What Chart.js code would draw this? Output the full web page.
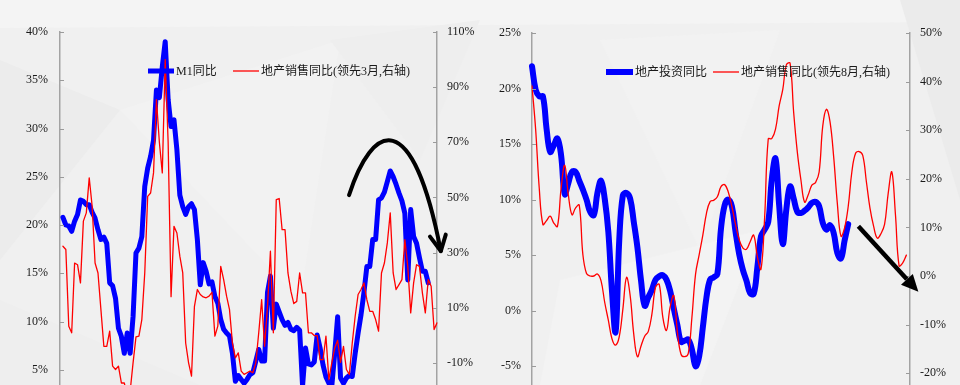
<!DOCTYPE html>
<html>
<head>
<meta charset="utf-8">
<script src="https://cdn.jsdelivr.net/npm/chart.js@4.4.1/dist/chart.umd.min.js"></script>
<style>
  html, body { margin: 0; padding: 0; width: 960px; height: 385px; overflow: hidden; background: #f0f0f0; }
  #bg { position: absolute; left: 0; top: 0; }
  .panel { position: absolute; top: 0; width: 480px; height: 440px; }
  #leftPanel { left: 0; }
  #rightPanel { left: 480px; }
</style>
</head>
<body>
<canvas id="bg" width="960" height="385"></canvas>
<div class="panel" id="leftPanel"><canvas id="m1Chart" width="480" height="440"></canvas></div>
<div class="panel" id="rightPanel"><canvas id="invChart" width="480" height="440"></canvas></div>
<script>
// ---- left panel: M1 yoy vs property sales yoy (3 month lead, right axis) ----
const m1Labels = Array.from({ length: 130 }, (_, i) => {
    const d = new Date(2007, 1 + i, 1);
    return d.getFullYear() + '-' + String(d.getMonth() + 1).padStart(2, '0');
});
const m1Yoy = [
    null, 20.8, 20.0, 19.9, 19.35, 20.4, 21.1, 22.6, 22.45, 22.1,
    22.1, 21.3, 20.7, 19.5, 18.5, 18.75, 18.1, 14.0, 13.7, 12.4,
    9.3, 8.45, 6.7, 8.8, 6.7, 10.5, 17.1, 17.6, 18.8, 24.0,
    25.9, 27.1, 28.8, 34.0, 33.2, 36.4, 39.0, 33.0, 30.2, 30.9,
    27.8, 23.1, 21.9, 21.1, 21.9, 22.2, 21.6, 18.5, 13.8, 16.1,
    15.2, 13.9, 14.1, 12.6, 11.9, 10.2, 9.2, 8.8, 8.5, 6.7,
    3.8, 4.4, 4.0, 3.6, 4.0, 4.5, 4.7, 5.9, 7.1, 5.9,
    5.9, 13.0, 14.7, 9.3, 11.8, 11.0, 10.2, 9.6, 9.9, 9.2,
    9.05, 9.4, 9.1, 3.3, 7.25, 5.6, 5.5, 5.8, 8.6, 7.25,
    5.5, 4.25, 3.6, 3.3, 6.7, 10.5, 4.15, 3.6, 4.15, 4.4,
    4.3, 6.7, 8.8, 10.7, 13.0, 15.7, 15.7, 18.5, 18.5, 22.6,
    22.8, 23.4, 24.5, 25.6, 25.0, 24.2, 23.3, 22.5, 21.2, 14.3,
    21.6, 18.8, 18.1, 16.6, 15.2, 15.2, 14.0, null, null, null
];
const salesLead3 = [
    null, 32.3, 31.1, 3.3, 0.9, 26.2, 25.6, 19.0, 41.4, 44.4,
    57.1, 46.8, 26.2, 22.6, 9.3, -4.0, -4.0, 1.5, -11.2, -12.4,
    -11.2, -17.3, -17.3, -22.0, -20.3, -10.0, -0.6, -0.3, 5.7, 22.6,
    50.4, 51.6, 58.9, 85.5, 70.0, 58.9, 100.0, 70.0, 14.0, 39.5,
    37.1, 28.7, 22.6, -2.8, -10.0, -14.8, 10.5, 16.6, 14.8, 13.9,
    13.6, 14.2, 15.6, -0.3, 3.3, 25.0, 20.2, 14.2, 9.3, -2.8,
    -8.2, -6.4, -13.0, -14.2, -13.6, -13.0, -13.6, -10.0, 0.9, 12.9,
    -4.0, 10.5, 30.5, 0.9, 49.2, 49.6, 38.3, 38.3, 22.6, 16.0,
    11.5, 12.3, 22.6, 15.4, 15.4, 0.9, 0.9, -0.1, -0.1, -8.8,
    -8.8, -0.3, -16.1, -10.0, -4.6, -1.8, -9.8, -4.0, -12.4, -14.2,
    -2.8, 6.9, 14.8, 16.6, 19.0, 12.9, 8.7, 8.7, 5.7, 1.5,
    22.6, 26.2, 33.5, 44.4, 22.6, 16.6, 18.4, 20.2, 34.7, 25.0,
    8.1, 19.0, 25.6, 25.0, 15.4, 8.1, 20.2, 17.8, 2.1, 4.5
];
const m1Ticks = [0, 5, 10, 15, 20, 25, 30, 35, 40];
const sales3Ticks = [-30, -10, 10, 30, 50, 70, 90, 110];

// ---- right panel: property investment yoy vs property sales yoy (8 month lead, right axis) ----
const invLabels = Array.from({ length: 105 }, (_, i) => 't' + i);
const invYoy = [
    22.0, 19.9, 19.3, 19.3, 16.4, 14.3, 14.9, 15.5, 14.0, 10.5,
    11.5, 12.5, 12.5, 11.7, 10.9, 10.0, 8.9, 8.6, 10.6, 11.7,
    10.1, 7.1, 1.8, -1.9, 6.3, 10.4, 10.6, 10.1, 8.0, 5.7,
    2.7, 0.45, 1.2, 1.9, 2.8, 3.1, 3.2, 2.8, 1.8, 0.2,
    -1.3, -2.8, -2.7, -2.6, -3.5, -5.0, -4.1, -1.5, 1.2, 2.8,
    3.0, 3.3, 7.4, 9.5, 10.0, 9.4, 7.1, 5.1, 3.7, 2.7,
    1.6, 1.5, 3.9, 6.7, 7.3, 8.0, 11.9, 13.7, 9.5, 6.0,
    9.2, 11.2, 10.1, 8.9, 8.8, 9.0, 9.3, 9.7, 9.8, 9.4,
    7.9, 7.3, 7.7, 7.0, 5.2, 4.7, 6.3, 7.8, null, null,
    null, null, null, null, null, null, null, null, null, null,
    null, null, null, null, null
];
const salesLead8 = [
    39.1, 30.2, 18.0, 10.6, 11.4, 12.3, 10.9, 10.2, 18.0, 22.8,
    16.7, 12.6, 14.0, 14.6, 4.4, 0.5, 0.0, 0.0, 0.4, -1.0,
    -5.4, -9.1, -12.9, -14.2, -12.5, -6.8, -0.3, -4.0, -12.0, -16.6,
    -14.4, -12.4, -11.4, -7.8, -2.3, -1.7, -8.5, -11.2, -6.4, -4.0,
    -11.5, -16.1, -16.6, -15.9, -8.5, 0.4, 4.4, 8.4, 12.9, 15.3,
    15.6, 16.3, 18.4, 18.8, 17.3, 14.3, 10.6, 7.5, 5.8, 5.5,
    7.0, 8.4, 4.0, 1.4, 12.0, 28.2, 28.3, 30.2, 35.0, 38.4,
    43.5, 43.8, 33.6, 25.5, 19.7, 15.2, 16.7, 18.7, 19.2, 21.4,
    30.9, 34.3, 31.7, 24.5, 15.0, 8.2, 9.9, 14.3, 21.4, 25.2,
    25.6, 24.8, 19.4, 13.9, 10.2, 7.8, 8.7, 10.6, 17.0, 21.4,
    12.6, 2.1, 2.7, 4.3, null
];
const invTicks = [-10, -5, 0, 5, 10, 15, 20, 25];
const sales8Ticks = [-30, -20, -10, 0, 10, 20, 30, 40, 50];

const serif = '"Liberation Serif", "Times New Roman", serif';
const legendFont = '12px "Liberation Serif", "Noto Sans CJK SC", serif';

// faint faceted backdrop
(function drawBackdrop() {
    const g = document.getElementById('bg').getContext('2d');
    g.fillStyle = '#f0f0f0';
    g.fillRect(0, 0, 960, 385);
    const facets = [
        ['#f4f4f4', [[0, 0], [960, 0], [960, 22], [0, 28]]],
        ['#ececec', [[0, 60], [120, 110], [0, 260]]],
        ['#f2f2f2', [[120, 110], [340, 40], [300, 300]]],
        ['#eeeeee', [[330, 40], [480, 20], [420, 160]]],
        ['#f2f2f2', [[600, 40], [780, 30], [700, 250]]],
        ['#f3f3f3', [[560, 280], [760, 230], [700, 385], [540, 385]]],
        ['#ebebeb', [[900, 0], [960, 0], [960, 200]]],
        ['#eeeeee', [[0, 300], [200, 385], [0, 385]]]
    ];
    facets.forEach(([c, pts]) => {
        g.fillStyle = c;
        g.beginPath();
        pts.forEach(([x, y], i) => (i ? g.lineTo(x, y) : g.moveTo(x, y)));
        g.closePath();
        g.fill();
    });
})();

// small tick marks pointing into the plot
const innerTicks = {
    id: 'innerTicks',
    afterDatasetsDraw(chart) {
        const { ctx, chartArea } = chart;
        ctx.save();
        ctx.strokeStyle = '#9a9a9a';
        ctx.lineWidth = 1;
        ['y', 'y1'].forEach(id => {
            const s = chart.scales[id];
            const left = s.position === 'left';
            const x = left ? chartArea.left : chartArea.right;
            s.ticks.forEach(t => {
                const y = Math.round(s.getPixelForValue(t.value)) + 0.5;
                ctx.beginPath();
                ctx.moveTo(x, y);
                ctx.lineTo(x + (left ? 4 : -4), y);
                ctx.stroke();
            });
        });
        ctx.restore();
    }
};

// legend drawn inside the plot, as in the original
const insideLegend = {
    id: 'insideLegend',
    afterDatasetsDraw(chart, args, opts) {
        if (!opts.items) return;
        const ctx = chart.ctx;
        ctx.save();
        ctx.font = legendFont;
        ctx.textBaseline = 'middle';
        opts.items.forEach(it => {
            const ds = chart.data.datasets[it.dataset];
            ctx.strokeStyle = ds.borderColor;
            ctx.lineWidth = ds.borderWidth;
            ctx.beginPath();
            ctx.moveTo(it.x, opts.y);
            ctx.lineTo(it.x + it.len, opts.y);
            ctx.stroke();
            ctx.fillStyle = '#1a1a1a';
            ctx.fillText(ds.label, it.x + it.len + 2, opts.y + 1);
        });
        ctx.restore();
    }
};

// black trend arrows, anchored in data units (x index, left axis value)
const trendArrow = {
    id: 'trendArrow',
    afterDraw(chart, args, opts) {
        const { ctx, scales: { x, y } } = chart;
        const P = p => [x.getPixelForValue(p[0]), y.getPixelForValue(p[1])];
        ctx.save();
        ctx.strokeStyle = '#000';
        ctx.fillStyle = '#000';
        ctx.lineCap = 'round';
        ctx.lineJoin = 'round';
        if (opts.curve) {
            const [a, b, c, d] = opts.curve.map(P);
            ctx.lineWidth = 4;
            ctx.beginPath();
            ctx.moveTo(a[0], a[1]);
            ctx.bezierCurveTo(b[0], b[1], c[0], c[1], d[0], d[1]);
            ctx.stroke();
            const [l, r] = opts.head.map(P);
            ctx.beginPath();
            ctx.moveTo(l[0], l[1]);
            ctx.lineTo(d[0], d[1]);
            ctx.lineTo(r[0], r[1]);
            ctx.stroke();
        }
        if (opts.line) {
            const [s, t] = opts.line.map(P);
            const ang = Math.atan2(t[1] - s[1], t[0] - s[0]);
            const len = 17, half = 8;
            const bx = t[0] - len * Math.cos(ang), by = t[1] - len * Math.sin(ang);
            ctx.lineWidth = 4.5;
            ctx.lineCap = 'butt';
            ctx.beginPath();
            ctx.moveTo(s[0], s[1]);
            ctx.lineTo(bx, by);
            ctx.stroke();
            ctx.beginPath();
            ctx.moveTo(t[0], t[1]);
            ctx.lineTo(bx + half * Math.sin(ang), by - half * Math.cos(ang));
            ctx.lineTo(bx - half * Math.sin(ang), by + half * Math.cos(ang));
            ctx.closePath();
            ctx.fill();
        }
        ctx.restore();
    }
};

function axis(position, ticks, width, pad) {
    return {
        position,
        min: ticks[0],
        max: ticks[ticks.length - 1],
        afterBuildTicks: s => { s.ticks = ticks.map(v => ({ value: v })); },
        afterFit: s => { s.width = width; },
        grid: { display: false, drawTicks: false },
        border: { display: true, color: '#a3a3a3', width: 1.5 },
        ticks: { padding: pad, color: '#1a1a1a', font: { family: serif, size: 12 }, callback: v => v + '%' }
    };
}

function panelOptions(p) {
    return {
        responsive: false,
        animation: false,
        devicePixelRatio: 1,
        events: [],
        layout: { padding: { top: p.top, bottom: p.bottom, left: 0, right: 0 } },
        elements: {
            point: { radius: 0 },
            line: { borderJoinStyle: 'round', borderCapStyle: 'round', fill: false }
        },
        scales: {
            x: { display: false, offset: false },
            y: axis('left', p.leftTicks, p.leftWidth, p.leftPad),
            y1: axis('right', p.rightTicks, p.rightWidth, p.rightPad)
        },
        plugins: {
            legend: { display: false },
            tooltip: { enabled: false },
            insideLegend: p.legend,
            trendArrow: p.arrow
        }
    };
}

new Chart(document.getElementById('m1Chart'), {
    type: 'line',
    data: {
        labels: m1Labels,
        datasets: [
            { label: 'M1同比', data: m1Yoy, yAxisID: 'y', borderColor: '#0000ff', borderWidth: 5, tension: 0, order: 1 },
            { label: '地产销售同比(领先3月,右轴)', data: salesLead3, yAxisID: 'y1', borderColor: '#ff0000', borderWidth: 1.3, tension: 0, order: 0 }
        ]
    },
    options: panelOptions({
        top: 32, bottom: 22,
        leftTicks: m1Ticks, leftWidth: 60, leftPad: 12,
        rightTicks: sales3Ticks, rightWidth: 43, rightPad: 10,
        legend: { y: 71, items: [{ dataset: 0, x: 148, len: 26 }, { dataset: 1, x: 233, len: 26 }] },
        arrow: {
            curve: [[98.9, 23.1], [106.8, 30.5], [120.5, 32.6], [130.3, 17.3]],
            head: [[126.6, 18.8], [132.0, 19.0]]
        }
    }),
    plugins: [innerTicks, insideLegend, trendArrow]
});

new Chart(document.getElementById('invChart'), {
    type: 'line',
    data: {
        labels: invLabels,
        datasets: [
            { label: '地产投资同比', data: invYoy, yAxisID: 'y', borderColor: '#0000ff', borderWidth: 6, tension: 0.4, order: 1 },
            { label: '地产销售同比(领先8月,右轴)', data: salesLead8, yAxisID: 'y1', borderColor: '#ff0000', borderWidth: 1.3, tension: 0.4, order: 0 }
        ]
    },
    options: panelOptions({
        top: 33, bottom: 14,
        leftTicks: invTicks, leftWidth: 52, leftPad: 11,
        rightTicks: sales8Ticks, rightWidth: 50, rightPad: 10,
        legend: { y: 72, items: [{ dataset: 0, x: 126, len: 27 }, { dataset: 1, x: 233, len: 26 }] },
        arrow: { line: [[89.8, 7.6], [106.3, 1.7]] }
    }),
    plugins: [innerTicks, insideLegend, trendArrow]
});
</script>
</body>
</html>
